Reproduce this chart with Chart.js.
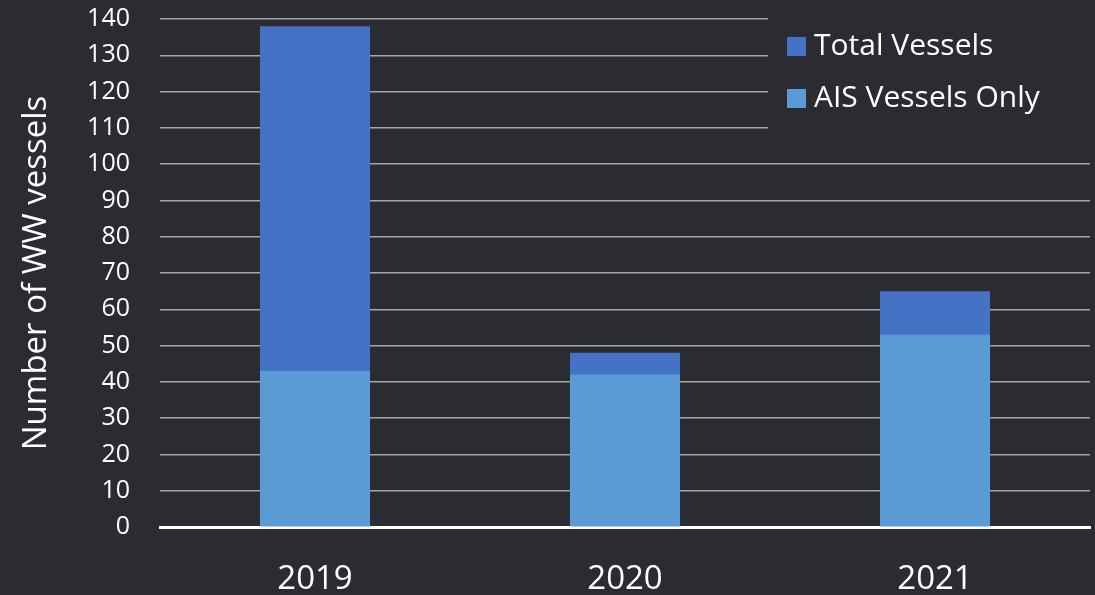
<!DOCTYPE html>
<html>
<head>
<meta charset="utf-8">
<script src="https://cdn.jsdelivr.net/npm/chart.js@4"></script>
<style>
  html, body { margin: 0; padding: 0; background: #2a2c31; }
  #wrap { width: 1095px; height: 595px; }
</style>
</head>
<body>
<div id="wrap"><canvas id="c"></canvas></div>
<script>
const years = ["2019", "2020", "2021"];
const totalVessels = [138, 48, 65];
const aisVessels = [43, 42, 53];
const seriesNames = ["Total Vessels", "AIS Vessels Only"];
const seriesColors = ["#4472c4", "#5b9bd5"];

const BG = "#2a2c31";
const FONT = "'Open Sans', sans-serif";

// legend drawn by hand so its box can hide the gridlines behind it
const legendBox = {
    id: "legendBox",
    afterDraw(chart) {
        const ctx = chart.ctx;
        const area = chart.chartArea;
        ctx.save();
        ctx.fillStyle = BG;
        ctx.fillRect(768, 0, area.right - 768 + 6, 145);
        ctx.font = "30px " + FONT;
        ctx.textBaseline = "middle";
        seriesNames.forEach((name, i) => {
            const y = 46 + i * 52;
            ctx.fillStyle = seriesColors[i];
            ctx.fillRect(787, y - 9, 19, 19);
            ctx.fillStyle = "#ffffff";
            ctx.fillText(name, 814, y);
        });
        ctx.restore();
    }
};

new Chart(document.getElementById("c"), {
    type: "bar",
    data: {
        labels: years,
        datasets: [
            {
                label: seriesNames[0],
                data: totalVessels,
                backgroundColor: seriesColors[0],
                grouped: false,
                order: 2
            },
            {
                label: seriesNames[1],
                data: aisVessels,
                backgroundColor: seriesColors[1],
                grouped: false,
                order: 1
            }
        ]
    },
    options: {
        responsive: true,
        maintainAspectRatio: false,
        animation: false,
        layout: { padding: { top: 19, right: 5, left: 0, bottom: 0 } },
        datasets: { bar: { barPercentage: 0.355, categoryPercentage: 1 } },
        plugins: {
            legend: { display: false },
            tooltip: { enabled: false }
        },
        scales: {
            x: {
                afterFit: s => { s.height = 68; },
                grid: { display: false },
                border: { color: "#ffffff", width: 3 },
                ticks: { color: "#ffffff", font: { family: FONT, size: 33 }, padding: 25 }
            },
            y: {
                min: 0,
                max: 140,
                afterFit: s => { s.width = 160; },
                border: { display: false },
                grid: { color: "#a6a6a6", lineWidth: 1.5, drawTicks: true, tickLength: 30, tickColor: "rgba(0,0,0,0)" },
                ticks: { stepSize: 10, color: "#ffffff", font: { family: FONT, size: 25 }, padding: 0 },
                title: {
                    display: true,
                    text: "Number of WW vessels",
                    color: "#ffffff",
                    font: { family: FONT, size: 33 },
                    padding: { top: 17, bottom: 0 }
                }
            }
        }
    },
    plugins: [legendBox]
});
</script>
</body>
</html>
